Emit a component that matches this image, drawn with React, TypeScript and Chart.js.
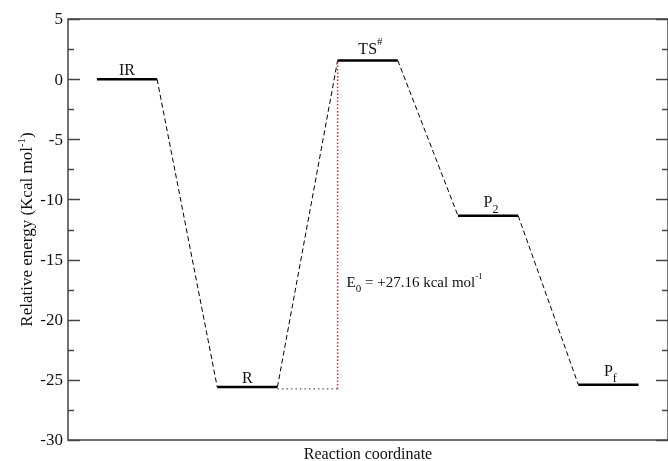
import React, { useEffect, useRef } from 'react';
import { Chart, registerables } from 'chart.js';

Chart.register(...registerables);

// ---- data ----
const levelNames = ['IR', 'R', 'TS', 'P', 'P'];
const levelSubs = ['', '', '', '2', 'f'];
const levelSups = ['', '', '#', '', ''];
const levelEnergies = [0, -25.6, 1.55, -11.35, -25.4];
const levelPositions = [0, 2, 4, 6, 8];
const levelWidth = 1;
const barrierBase = -25.75;
const annotationEnergy = -17.3;
const annotationMain = 'E';
const annotationSub = '0';
const annotationText = ' = +27.16 kcal mol';
const annotationSup = '-1';
const yMajorTicks = [5, 0, -5, -10, -15, -20, -25, -30];
const yMinorTicks = [2.5, -2.5, -7.5, -12.5, -17.5, -22.5, -27.5];
const xRange = [-0.48, 9.49];
const yRange = [-30, 5];
const xTitle = 'Reaction coordinate';
const yTitleMain = 'Relative energy (Kcal mol';
const yTitleSup = '-1';
const yTitleEnd = ')';

const FONT = "'Liberation Serif', 'DejaVu Serif', serif";

type Part = { text: string; size: number; dy: number };

function richWidth(ctx: CanvasRenderingContext2D, parts: Part[]) {
  let w = 0;
  for (const p of parts) {
    ctx.font = `${p.size}px ${FONT}`;
    w += ctx.measureText(p.text).width;
  }
  return w;
}

function drawRich(ctx: CanvasRenderingContext2D, parts: Part[], x: number, y: number) {
  let cx = x;
  ctx.textAlign = 'left';
  ctx.textBaseline = 'alphabetic';
  for (const p of parts) {
    ctx.font = `${p.size}px ${FONT}`;
    ctx.fillText(p.text, cx, y + p.dy);
    cx += ctx.measureText(p.text).width;
  }
}

const decorPlugin = {
  id: 'decor',
  afterDraw(chart: any) {
    const ctx: CanvasRenderingContext2D = chart.ctx;
    const { left, right, top, bottom } = chart.chartArea;
    const xs = chart.scales.x;
    const ys = chart.scales.y;
    ctx.save();
    // frame
    ctx.strokeStyle = '#444';
    ctx.lineWidth = 1.5;
    ctx.strokeRect(left, top, right - left, bottom - top);
    // ticks
    ctx.lineWidth = 1.5;
    ctx.beginPath();
    for (const t of yMajorTicks) {
      const py = Math.round(ys.getPixelForValue(t)) + 0.5;
      ctx.moveTo(left, py); ctx.lineTo(left + 12, py);
      ctx.moveTo(right, py); ctx.lineTo(right - 12, py);
    }
    for (const t of yMinorTicks) {
      const py = Math.round(ys.getPixelForValue(t)) + 0.5;
      ctx.moveTo(left, py); ctx.lineTo(left + 6, py);
      ctx.moveTo(right, py); ctx.lineTo(right - 6, py);
    }
    ctx.stroke();
    // tick labels
    ctx.fillStyle = '#111';
    ctx.font = `17px ${FONT}`;
    ctx.textAlign = 'right';
    ctx.textBaseline = 'middle';
    for (const t of yMajorTicks) {
      ctx.fillText(String(t), left - 5, ys.getPixelForValue(t) + 1);
    }
    // x title
    ctx.font = `16px ${FONT}`;
    ctx.textAlign = 'center';
    ctx.textBaseline = 'alphabetic';
    ctx.fillText(xTitle, (left + right) / 2, 459);
    // y title (rotated)
    const yParts: Part[] = [
      { text: yTitleMain, size: 17, dy: 0 },
      { text: yTitleSup, size: 11, dy: -7 },
      { text: yTitleEnd, size: 17, dy: 0 },
    ];
    ctx.save();
    ctx.translate(32, (top + bottom) / 2);
    ctx.rotate(-Math.PI / 2);
    const yw = richWidth(ctx, yParts);
    drawRich(ctx, yParts, -yw / 2, 0);
    ctx.restore();
    // level labels
    levelNames.forEach((name, i) => {
      const cx = xs.getPixelForValue(levelPositions[i] + levelWidth / 2);
      const ly = ys.getPixelForValue(levelEnergies[i]);
      const gap = levelSubs[i] ? 9 : levelSups[i] ? 6 : 4;
      ctx.font = `16px ${FONT}`;
      const mw = ctx.measureText(name).width;
      const parts: Part[] = [{ text: name, size: 16, dy: 0 }];
      if (levelSubs[i]) parts.push({ text: levelSubs[i], size: 12, dy: 6 });
      if (levelSups[i]) parts.push({ text: levelSups[i], size: 11, dy: -9 });
      drawRich(ctx, parts, cx - mw / 2, ly - gap);
    });
    // annotation
    const ax = xs.getPixelForValue(levelPositions[2]) + 9;
    const ay = ys.getPixelForValue(annotationEnergy);
    drawRich(ctx, [
      { text: annotationMain, size: 15, dy: 0 },
      { text: annotationSub, size: 11, dy: 5 },
      { text: annotationText, size: 15, dy: 0 },
      { text: annotationSup, size: 9, dy: -8 },
    ], ax, ay);
    ctx.restore();
  },
};

export default function App() {
  const ref = useRef<HTMLCanvasElement>(null);
  useEffect(() => {
    if (!ref.current) return;
    const datasets: any[] = [];
    datasets.push({
      data: [{ x: levelPositions[2], y: barrierBase }, { x: levelPositions[2], y: levelEnergies[2] }],
      borderColor: '#ff1a1a', borderWidth: 1.5, borderDash: [1.5, 2],
    });
    levelEnergies.forEach((e, i) => {
      datasets.push({
        data: [{ x: levelPositions[i], y: e }, { x: levelPositions[i] + levelWidth, y: e }],
        borderColor: '#000', borderWidth: 2.5,
      });
      if (i < levelEnergies.length - 1) {
        datasets.push({
          data: [
            { x: levelPositions[i] + levelWidth, y: e },
            { x: levelPositions[i + 1], y: levelEnergies[i + 1] },
          ],
          borderColor: '#000', borderWidth: 1, borderDash: [5, 3],
        });
      }
    });
    datasets.push({
      data: [{ x: levelPositions[1] + levelWidth, y: barrierBase }, { x: levelPositions[2], y: barrierBase }],
      borderColor: '#333', borderWidth: 1, borderDash: [1.5, 3],
    });
    const chart = new Chart(ref.current, {
      type: 'line',
      data: { datasets },
      options: {
        responsive: false,
        animation: false,
        devicePixelRatio: 1,
        layout: { padding: { left: 68, top: 19, right: -3, bottom: 21 } },
        elements: { point: { radius: 0 }, line: { tension: 0 } },
        plugins: { legend: { display: false }, tooltip: { enabled: false } },
        scales: {
          x: { type: 'linear', min: xRange[0], max: xRange[1], display: false },
          y: { type: 'linear', min: yRange[0], max: yRange[1], display: false },
        },
      },
      plugins: [decorPlugin],
    });
    return () => chart.destroy();
  }, []);
  return (
    <canvas
      ref={ref}
      width={668}
      height={461}
      style={{ position: 'absolute', left: 0, top: 0, background: '#fff' }}
    />
  );
}
